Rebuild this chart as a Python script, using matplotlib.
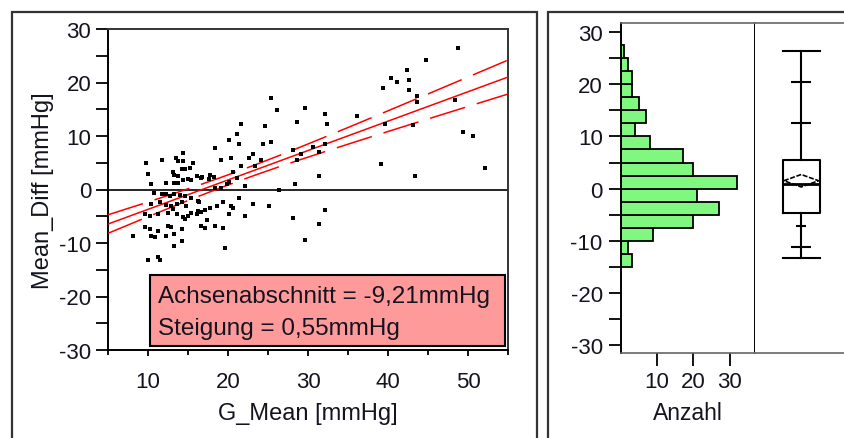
import numpy as np
import matplotlib
matplotlib.use('Agg')
import matplotlib.pyplot as plt
from matplotlib.patches import Rectangle, Polygon

plt.rcParams['font.family'] = ['Liberation Sans', 'DejaVu Sans']
plt.rcParams['axes.unicode_minus'] = False

# scatter points (G_Mean, Mean_Diff)
g_mean = [48.7, 44.7, 42.4, 40.4, 41.1, 42.6, 39.4, 42.6, 43.6, 43.6, 48.4, 29.6, 32.1, 32.4, 36.1,
          39.6, 43.1, 49.4, 50.6, 30.6, 32.1, 31.4, 29.1, 39.1, 31.4, 43.4, 52.1, 32.1, 31.4, 29.6,
          25.4, 26.1, 21.6, 24.6, 28.6, 21.1, 20.1, 21.4, 24.4, 25.4, 18.4, 23.1, 22.6, 19.1, 20.4,
          24.1, 28.1, 28.6, 21.6, 23.4, 20.6, 16.1, 16.6, 17.8, 18.2, 17.6, 21.1, 20.1, 19.9, 22.1,
          18.4, 19.1, 26.4, 28.4, 16.4, 21.4, 23.1, 25.1, 20.4, 20.6, 18.6, 19.4, 17.7, 17.1, 16.6,
          16.1, 20.1, 22.1, 28.1, 17.4, 16.6, 17.1, 18.4, 19.4, 19.6,
          14.4, 9.7, 11.7, 13.5, 13.8, 14.4, 15.6, 15.3, 13.1, 13.3, 13.8, 14.2, 14.6, 10.0, 15.0,
          16.7, 10.4, 12.3, 13.3, 13.8, 14.4, 15.4, 10.8, 11.7, 12.2, 12.7, 13.3, 14.0, 14.6, 15.4,
          16.3, 10.4, 11.5, 12.3, 12.9, 13.6, 14.2, 14.8, 9.6, 10.2, 11.3, 12.5, 13.1, 13.6, 14.4,
          14.6, 15.0, 15.4, 16.3, 9.6, 10.2, 11.3, 12.5, 12.9, 14.2, 8.1, 10.4, 10.9, 12.3, 13.3,
          14.2, 13.3, 10.0, 11.3, 11.5]
mean_diff = [26.4, 24.2, 22.3, 20.8, 20.1, 20.5, 18.9, 18.6, 17.5, 16.4, 16.7, 15.2, 14.1, 12.2, 13.7,
             12.2, 12.1, 10.7, 10.0, 7.9, 8.5, 7.0, 6.6, 4.8, 2.5, 2.5, 4.0, -3.8, -6.4, -9.4,
             17.1, 14.9, 12.2, 11.9, 12.6, 10.4, 9.3, 8.5, 8.5, 8.9, 7.8, 6.6, 5.9, 5.5, 5.9,
             5.5, 7.4, 5.5, 4.4, 4.4, 3.3, 2.5, 2.1, 2.7, 2.4, 2.0, 2.1, 1.4, 1.0, 0.7,
             0.3, 0.3, -0.1, 1.0, -2.3, -1.6, -2.7, -3.1, -3.1, -3.5, -3.1, -2.3, -3.5, -3.8, -4.2,
             -4.6, -4.6, -5.0, -5.3, -5.7, -6.8, -7.2, -6.8, -7.2, -10.9,
             6.9, 4.9, 5.5, 5.8, 5.4, 5.4, 4.9, 4.1, 3.2, 2.7, 2.6, 3.8, 3.8, 2.9, 2.0,
             2.3, 1.1, 1.3, 1.3, 1.3, 1.7, 1.7, -0.7, -0.8, -0.8, -1.2, -0.8, -1.0, -1.2, -1.5,
             -2.1, -2.7, -2.4, -2.9, -3.0, -2.7, -2.4, -3.0, -4.6, -4.9, -4.6, -4.3, -3.6, -4.6, -5.2,
             -5.5, -4.9, -4.3, -4.0, -7.1, -7.3, -7.7, -6.8, -7.1, -7.3, -8.6, -8.6, -8.9, -8.6, -8.3,
             -9.6, -10.5, -13.1, -12.7, -13.1]

intercept = -9.21
slope = 0.55
fit_text = ["Achsenabschnitt = -9,21mmHg", "Steigung = 0,55mmHg"]

# histogram of Mean_Diff (bin lower edges, counts)
hist_bins = [-15, -12.5, -10, -7.5, -5, -2.5, 0, 2.5, 5, 7.5, 10, 12.5, 15, 17.5, 20, 22.5, 25]
hist_counts = [3, 2, 9, 20, 27, 21, 32, 20, 17, 8, 4, 7, 5, 3, 3, 2, 1]

# quantile box plot
box_stats = {'whislo': -13.4, 'q1': -4.7, 'med': 0.8, 'q3': 5.4, 'whishi': 26.5}
quantile_marks = [-11.2, -7.2, 12.5, 20.5]
mean_value = 1.5
mean_ci = 1.2

W, H = 845, 439
fig = plt.figure(figsize=(W / 100, H / 100), dpi=100)


def px_axes(l, t, r, b):
    return fig.add_axes([l / W, 1 - b / H, (r - l) / W, (b - t) / H])


# outer panel frames
for l, r in [(11.7, 536.7), (548.3, 860)]:
    fig.patches.append(Rectangle((l / W, -0.05), (r - l) / W, 1 - 13.3 / H + 0.05,
                                 transform=fig.transFigure, fill=False,
                                 edgecolor='#333333', lw=1.6))

txt = '#141420'

# ---- scatter with fit ----
ax = px_axes(108, 30, 508.3, 351)
x = np.array(g_mean)
y = np.array(mean_diff)
ax.scatter(x, y, s=8, marker='s', color='black', lw=0, zorder=4)
ax.axhline(0, color='black', lw=1.2, zorder=2)

xs = np.linspace(5, 55, 200)
fit = intercept + slope * xs
resid = y - (intercept + slope * x)
n = len(x)
s = np.sqrt(np.sum(resid ** 2) / (n - 2))
hw = 1.97 * s * np.sqrt(1 / n + (xs - x.mean()) ** 2 / np.sum((x - x.mean()) ** 2))
ax.plot(xs, fit, color='red', lw=1.1, zorder=3)
ax.plot(xs, fit + hw, color='red', lw=1.1, ls=(0, (24, 8)), zorder=3)
ax.plot(xs, fit - hw, color='red', lw=1.1, ls=(0, (24, 8)), zorder=3)

ax.add_patch(Rectangle((10.2, -29.2), 44.4, 13.2, facecolor='#FF9A9A',
                       edgecolor='black', lw=1.5, zorder=5))
ax.text(11.3, -19.9, fit_text[0], fontsize=17.5, color=txt, va='center', zorder=6)
ax.text(11.3, -25.9, fit_text[1], fontsize=17.5, color=txt, va='center', zorder=6)

ax.set_xlim(5, 55)
ax.set_ylim(-30, 30)
ax.set_xticks([10, 20, 30, 40, 50])
ax.set_xticks(np.arange(5, 56, 5), minor=True)
ax.set_yticks(np.arange(-30, 31, 10))
ax.set_yticks(np.arange(-25, 26, 10), minor=True)
ax.tick_params(axis='y', which='both', length=9, width=1.3, pad=3, labelsize=16, labelcolor=txt)
ax.tick_params(axis='x', which='major', length=4, width=1.3, pad=11, labelsize=16, labelcolor=txt)
ax.tick_params(axis='x', which='minor', length=3.5, width=1.3)
for sp in ax.spines.values():
    sp.set_color('#333333')
    sp.set_linewidth(1.4)
ax.spines['left'].set_color('black')
ax.spines['bottom'].set_color('black')
ax.set_xlabel('G_Mean [mmHg]', fontsize=17, color=txt, labelpad=7)
ax.set_ylabel('Mean_Diff [mmHg]', fontsize=17, color=txt, labelpad=4)

# ---- histogram ----
hx = px_axes(620.7, 24, 755, 354.3)
hx.barh(hist_bins, hist_counts, height=2.5, align='edge', color='#80F880',
        edgecolor='black', lw=1.3)
hx.set_ylim(-31.65, 31.8)
hx.set_xlim(0, 36.9)
hx.set_xticks([10, 20, 30])
hx.set_yticks(np.arange(-30, 31, 10))
hx.set_yticks(np.arange(-25, 26, 10), minor=True)
hx.tick_params(axis='y', which='both', length=9, width=1.3, pad=4, labelsize=16, labelcolor=txt)
hx.tick_params(axis='x', length=9, width=1.3, pad=4, labelsize=16, labelcolor=txt)
hx.set_xlabel('Anzahl', fontsize=16.5, color=txt, labelpad=6)
for sp in ['top', 'bottom']:
    hx.spines[sp].set_color('#666666')
    hx.spines[sp].set_linewidth(1.2)
hx.spines['left'].set_linewidth(1.4)
hx.spines['right'].set_linewidth(1.4)

# ---- quantile box plot ----
bx = px_axes(755, 24, 860, 354.3)
stats = dict(box_stats, fliers=[])
pos, wid = 0.44, 0.35
bx.bxp([stats], positions=[pos], widths=wid, capwidths=[wid], showfliers=False,
       boxprops=dict(lw=1.5), whiskerprops=dict(lw=1.5), capprops=dict(lw=1.5),
       medianprops=dict(color='black', lw=2))
for q in quantile_marks:
    w = 0.19 if abs(q) > 11 else 0.1
    bx.hlines(q, pos - w / 2, pos + w / 2, color='black', lw=1.5)
bx.add_patch(Polygon([(pos - wid / 2 + 0.01, mean_value), (pos, mean_value + mean_ci),
                      (pos + wid / 2 - 0.01, mean_value), (pos, mean_value - mean_ci)],
                     closed=True, fill=False, edgecolor='black', lw=1.2, ls=(0, (3, 1))))
bx.set_xlim(0, 1)
bx.set_ylim(-31.65, 31.8)
bx.set_xticks([])
bx.set_yticks([])
bx.spines['left'].set_visible(False)
bx.spines['right'].set_visible(False)
for sp in ['top', 'bottom']:
    bx.spines[sp].set_color('#666666')
    bx.spines[sp].set_linewidth(1.2)

fig.savefig('out.png', dpi=100)
